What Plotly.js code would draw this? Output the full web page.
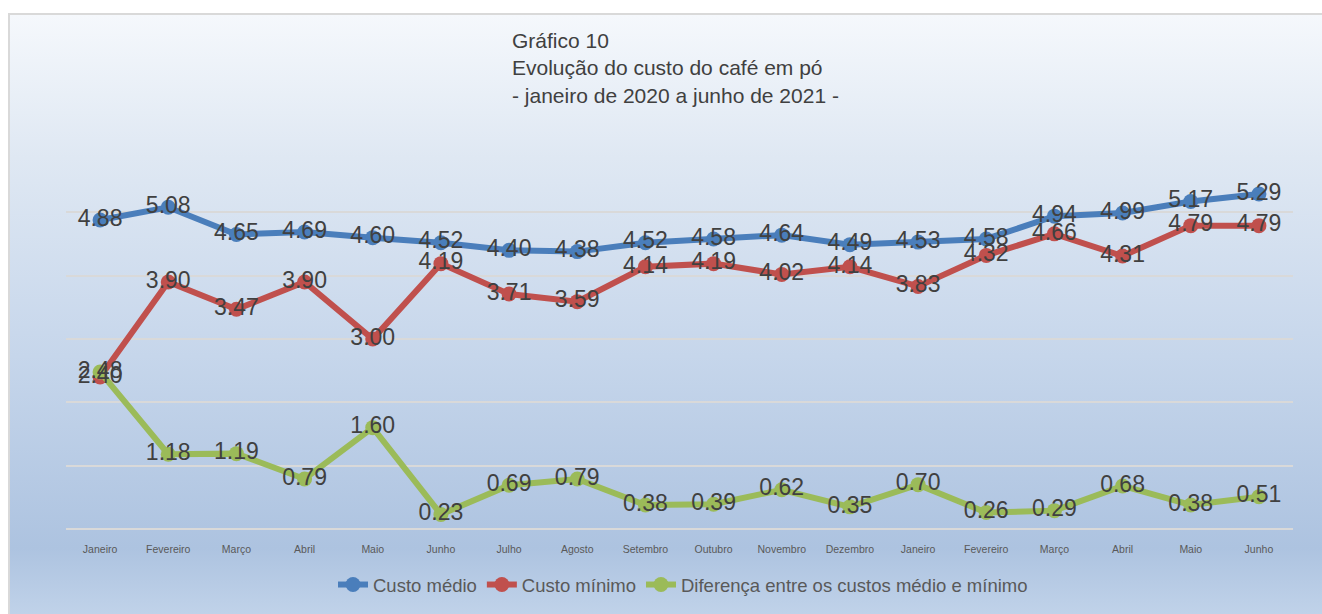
<!DOCTYPE html>
<html>
<head>
<meta charset="utf-8">
<script src="https://cdn.plot.ly/plotly-3.0.1.min.js"></script>
<style>
  html, body { margin: 0; padding: 0; background: #ffffff; }
  #frame {
    position: absolute; left: 8px; top: 13px; width: 1330px; height: 620px;
    border-left: 2px solid #d9d9d9; border-top: 2px solid #d9d9d9;
    background: linear-gradient(to bottom, #f5f8fc 0%, #dfe8f3 23%, #c6d6eb 55%, #adc3e0 86%, #c6d7ec 100%);
  }
  #chart { position: absolute; left: 0; top: 0; width: 1322px; height: 614px; }
</style>
</head>
<body>
<div id="frame"></div>
<div id="chart"></div>
<script>
const months = ["Janeiro","Fevereiro","Março","Abril","Maio","Junho","Julho","Agosto","Setembro","Outubro","Novembro","Dezembro","Janeiro","Fevereiro","Março","Abril","Maio","Junho"];
const custoMedio = [4.88,5.08,4.65,4.69,4.60,4.52,4.40,4.38,4.52,4.58,4.64,4.49,4.53,4.58,4.94,4.99,5.17,5.29];
const custoMinimo = [2.40,3.90,3.47,3.90,3.00,4.19,3.71,3.59,4.14,4.19,4.02,4.14,3.83,4.32,4.66,4.31,4.79,4.79];
const diferenca = [2.48,1.18,1.19,0.79,1.60,0.23,0.69,0.79,0.38,0.39,0.62,0.35,0.70,0.26,0.29,0.68,0.38,0.51];
const seriesNames = ["Custo médio","Custo mínimo","Diferença entre os custos médio e mínimo"];
const seriesColors = ["#4a7ebb","#c0504d","#9bbb59"];
const seriesData = [custoMedio, custoMinimo, diferenca];

const xs = months.map((m, i) => i);
const FONT = "Liberation Sans, Arial, sans-serif";

const traces = [];
seriesData.forEach((vals, k) => {
  traces.push({
    type: "scatter", mode: "lines+markers", x: xs, y: vals, name: seriesNames[k],
    line: { color: seriesColors[k], width: 6 },
    marker: { color: seriesColors[k], size: 15 },
    hoverinfo: "skip"
  });
});
seriesData.forEach((vals, k) => {
  traces.push({
    type: "scatter", mode: "text", x: xs, y: vals, showlegend: false,
    text: vals.map(v => v.toFixed(2)), textposition: "middle center",
    textfont: { family: FONT, size: 23, color: "#404040" },
    hoverinfo: "skip"
  });
});

const layout = {
  width: 1322, height: 614,
  paper_bgcolor: "rgba(0,0,0,0)", plot_bgcolor: "rgba(0,0,0,0)",
  font: { family: FONT, color: "#595959" },
  margin: { l: 66, r: 29, t: 149, b: 85 },
  title: {
    text: "Gráfico 10<br>Evolução do custo do café em pó<br>- janeiro de 2020 a junho de 2021 -",
    xref: "container", yref: "container", x: 512/1322, xanchor: "left",
    y: 1 - 48/614, yanchor: "top",
    font: { family: FONT, size: 21, color: "#404040" }
  },
  xaxis: {
    range: [-0.5, 17.5], tickmode: "array", tickvals: xs, ticktext: months,
    showgrid: false, zeroline: false, showline: false,
    ticks: "outside", ticklen: 10, tickcolor: "rgba(0,0,0,0)",
    tickfont: { family: FONT, size: 10.5, color: "#595959" }, fixedrange: true
  },
  yaxis: {
    range: [0, 6], dtick: 1, tick0: 0, showticklabels: false,
    showgrid: true, gridcolor: "#d9d9d9", gridwidth: 2,
    zeroline: true, zerolinecolor: "#d9d9d9", zerolinewidth: 2,
    showline: false, fixedrange: true
  },
  legend: {
    orientation: "h", xref: "container", yref: "container",
    x: 683/1322, xanchor: "center", y: 1 - 585/614, yanchor: "middle",
    font: { family: FONT, size: 18.5, color: "#595959" },
    itemwidth: 30, bgcolor: "rgba(0,0,0,0)"
  },
  showlegend: true
};

Plotly.newPlot("chart", traces, layout, { displayModeBar: false, staticPlot: true });
</script>
</body>
</html>
